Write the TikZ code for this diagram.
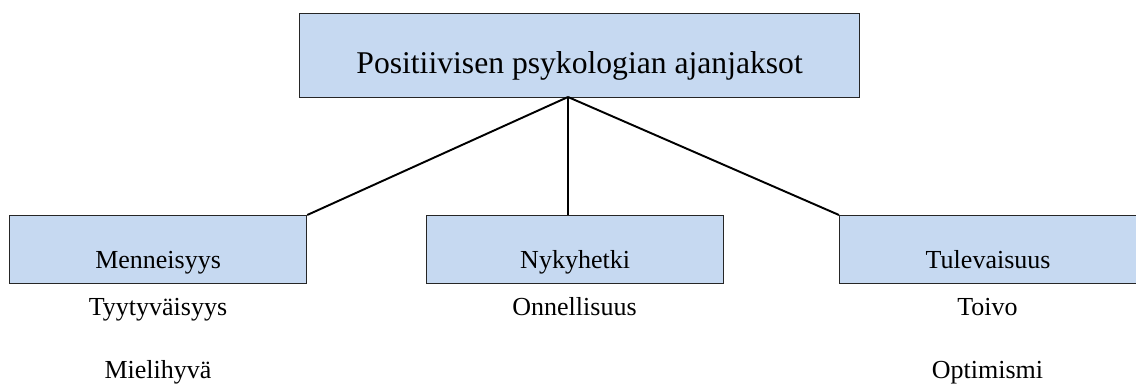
\documentclass[tikz,border=0pt]{standalone}
\usepackage{fontspec}
\setmainfont{Liberation Serif}
\usetikzlibrary{positioning}
\definecolor{boxblue}{RGB}{198,217,241}
\tikzset{
    topbox/.style = {rectangle, draw=black!85, line width=0.7pt, fill=boxblue, inner sep=0pt, minimum width=11.2cm, text height=1.2cm, text depth=0.48cm, font=\fontsize{18}{20}\selectfont},
    timebox/.style = {rectangle, draw=black!85, line width=0.7pt, fill=boxblue, inner sep=0pt, minimum width=5.94cm, text height=1.06cm, text depth=0.3cm, font=\fontsize{14.8}{17}\selectfont},
    itemtext/.style = {anchor=base, inner sep=0pt, font=\fontsize{14.8}{17}\selectfont},
    edgen/.style = {-, line width=1.1pt, black}
}

\begin{document}
\begin{tikzpicture}
\useasboundingbox (0,0) rectangle (22.72,7.7);
\node[topbox, anchor=north west] at (5.98,7.44) (top) {Positiivisen psykologian ajanjaksot};
\node[timebox, anchor=north west] at (0.18,3.4) (men) {Menneisyys};
\node[timebox, anchor=north west] at (8.52,3.4) (nyk) {Nykyhetki};
\node[timebox, anchor=north west] at (16.78,3.4) (tul) {Tulevaisuus};
\coordinate (hub) at (11.36,5.76);
\draw[edgen] (hub) -- (men.north east);
\draw[edgen] (hub) -- (hub |- nyk.north);
\draw[edgen] (hub) -- (tul.north west);
% lower texts
\node[itemtext] at (3.16,1.4) (tyy) {Tyytyväisyys};
\node[itemtext] at (3.16,0.14) (mie) {Mielihyvä};
\node[itemtext] at (11.49,1.4) (onn) {Onnellisuus};
\node[itemtext] at (19.75,1.4) (toi) {Toivo};
\node[itemtext] at (19.75,0.14) (opt) {Optimismi};
\end{tikzpicture}
\end{document}
